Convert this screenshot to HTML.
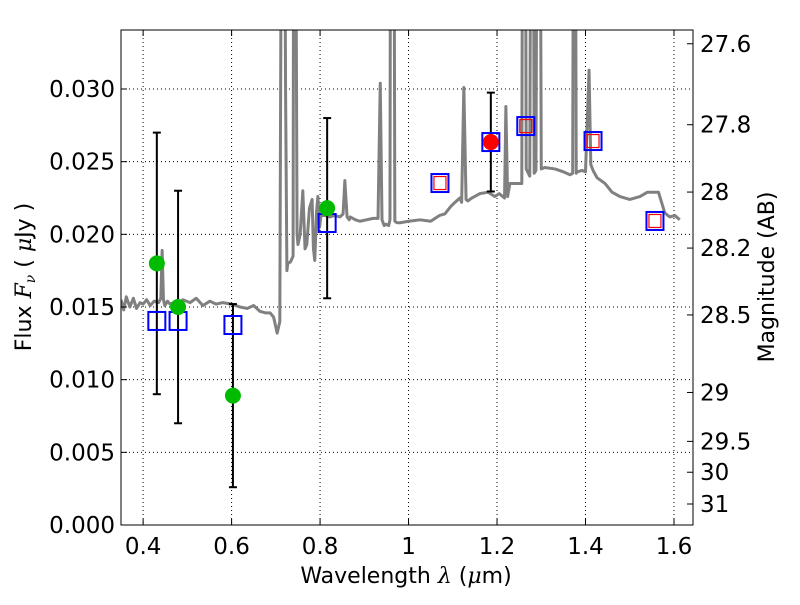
<!DOCTYPE html>
<html><head><meta charset="utf-8"><style>
body{margin:0;background:#fff}
svg text{font-family:"DejaVu Sans","Liberation Sans",sans-serif;fill:#000}
</style></head><body>
<svg id="c" width="800" height="600"></svg>
<script>
const specW=[0.350,0.356,0.362,0.370,0.378,0.385,0.393,0.400,0.408,0.416,0.425,0.435,0.440,0.443,0.446,0.449,0.455,0.461,0.470,0.480,0.490,0.506,0.520,0.535,0.551,0.565,0.580,0.600,0.619,0.635,0.650,0.664,0.676,0.687,0.695,0.703,0.709,0.712,0.714,0.718,0.722,0.725,0.727,0.733,0.739,0.741,0.743,0.748,0.750,0.755,0.761,0.766,0.770,0.776,0.782,0.785,0.788,0.792,0.795,0.799,0.802,0.811,0.822,0.833,0.845,0.852,0.856,0.861,0.866,0.868,0.880,0.890,0.905,0.920,0.931,0.936,0.940,0.945,0.949,0.955,0.958,0.960,0.962,0.966,0.969,0.974,0.981,1.000,1.026,1.050,1.070,1.082,1.095,1.105,1.116,1.120,1.125,1.130,1.134,1.143,1.161,1.180,1.195,1.205,1.213,1.217,1.220,1.224,1.229,1.245,1.256,1.259,1.263,1.266,1.274,1.278,1.281,1.284,1.288,1.292,1.296,1.300,1.308,1.331,1.350,1.365,1.371,1.374,1.376,1.379,1.382,1.392,1.400,1.408,1.412,1.417,1.426,1.444,1.460,1.478,1.500,1.523,1.540,1.552,1.565,1.579,1.586,1.591,1.602,1.613,1.628,1.643];
const specF=[0.0155,0.0148,0.0157,0.0150,0.0156,0.0149,0.0153,0.0152,0.0155,0.0151,0.0154,0.0153,0.0156,0.0189,0.0155,0.0151,0.0154,0.0152,0.0153,0.0152,0.0155,0.0153,0.0156,0.0151,0.0154,0.0152,0.0153,0.0152,0.0150,0.0149,0.0151,0.0147,0.0146,0.0146,0.0143,0.0132,0.0140,0.0400,0.0600,0.0600,0.0300,0.0175,0.0180,0.0181,0.0185,0.0600,0.0600,0.0200,0.0193,0.0200,0.0230,0.0190,0.0193,0.0218,0.0224,0.0190,0.0182,0.0215,0.0226,0.0205,0.0213,0.0213,0.0212,0.0213,0.0212,0.0214,0.0237,0.0212,0.0210,0.0212,0.0210,0.0209,0.0210,0.0211,0.0211,0.0304,0.0210,0.0206,0.0207,0.0206,0.0210,0.0600,0.0600,0.0600,0.0209,0.0208,0.0208,0.0209,0.0210,0.0209,0.0213,0.0214,0.0219,0.0222,0.0225,0.0222,0.0301,0.0224,0.0223,0.0225,0.0228,0.0229,0.0226,0.0228,0.0226,0.0225,0.0288,0.0226,0.0235,0.0235,0.0235,0.0600,0.0600,0.0245,0.0240,0.0600,0.0600,0.0242,0.0244,0.0600,0.0600,0.0245,0.0246,0.0245,0.0243,0.0241,0.0242,0.0600,0.0600,0.0242,0.0243,0.0244,0.0243,0.0313,0.0248,0.0244,0.0239,0.0235,0.0229,0.0226,0.0224,0.0226,0.0229,0.0229,0.0229,0.0215,0.0213,0.0212,0.0213,0.0210];
const ptW=[0.431,0.479,0.603,0.816];
const ptF=[0.0180,0.0150,0.0089,0.0218];
const ptErr=[0.0090,0.0080,0.0063,0.0062];
const redW=[1.186],redF=[0.02635],redErr=[0.0034];
const boxW=[0.431,0.479,0.603,0.816,1.071,1.186,1.265,1.417,1.557];
const boxF=[0.01404,0.01404,0.01376,0.02078,0.02353,0.02635,0.02745,0.02642,0.02092];
const rboxW=[1.071,1.265,1.417,1.557];
const rboxF=[0.02353,0.02745,0.02642,0.02092];
const xTicks=[0.4,0.6,0.8,1.0,1.2,1.4,1.6];
const xLabels=["0.4","0.6","0.8","1","1.2","1.4","1.6"];
const yTicks=[0,0.005,0.010,0.015,0.020,0.025,0.030];
const yLabels=["0.000","0.005","0.010","0.015","0.020","0.025","0.030"];
const magTicks=[27.6,27.8,28,28.2,28.5,29,29.5,30,31];
const magLabels=["27.6","27.8","28","28.2","28.5","29","29.5","30","31"];

const L=121,R=693,T=30,B=525,X0=0.35,X1=1.643,Y0=0,Y1=0.03406;
const sx=w=>L+(w-X0)/(X1-X0)*(R-L);
const sy=f=>B-(f-Y0)/(Y1-Y0)*(B-T);
const NS="http://www.w3.org/2000/svg";
const svg=document.getElementById('c');
function mk(tag,at,parent){const e=document.createElementNS(NS,tag);for(const k in at)e.setAttribute(k,at[k]);(parent||svg).appendChild(e);return e;}
const defs=mk('defs',{});const cp=mk('clipPath',{id:'clip'},defs);mk('rect',{x:L,y:T,width:R-L,height:B-T},cp);
const plot=mk('g',{'clip-path':'url(#clip)'});


xTicks.forEach((t,i)=>{const g=mk('line',{x1:sx(t),x2:sx(t),y1:T,y2:B,stroke:'#000','stroke-width':1,'stroke-dasharray':'1,3'},plot);

});
yTicks.forEach(t=>{const g=mk('line',{x1:L,x2:R,y1:sy(t),y2:sy(t),stroke:'#000','stroke-width':1,'stroke-dasharray':'1,3'},plot);

});
const sp=mk('polyline',{points:specW.map((w,i)=>sx(w)+','+sy(specF[i])).join(' '),fill:'none',stroke:'#808080','stroke-width':3,'stroke-linejoin':'round'},plot);


function ebar(w,f,e,name){const x=sx(w),y1=sy(f+e),y2=sy(f-e);
const g=mk('g',{},plot);


mk('line',{x1:x,x2:x,y1:y1,y2:y2,stroke:'#000','stroke-width':2},g);
mk('line',{x1:x-4,x2:x+4,y1:y1,y2:y1,stroke:'#000','stroke-width':2},g);
mk('line',{x1:x-4,x2:x+4,y1:y2,y2:y2,stroke:'#000','stroke-width':2},g);}
ptW.forEach((w,i)=>ebar(w,ptF[i],ptErr[i],'error-bar'));
redW.forEach((w,i)=>ebar(w,redF[i],redErr[i],'error-bar-red'));
boxW.forEach((w,i)=>{const r=mk('rect',{x:sx(w)-8.5,y:sy(boxF[i])-9,width:17,height:18,fill:'none',stroke:'#0000ff','stroke-width':2},plot);

});
rboxW.forEach((w,i)=>{const r=mk('rect',{x:sx(w)-6,y:sy(rboxF[i])-6.5,width:12,height:13,fill:'none',stroke:'#ff0000','stroke-width':1.2},plot);

});
ptW.forEach((w,i)=>{const c=mk('circle',{cx:sx(w),cy:sy(ptF[i]),r:8,fill:'#00bb00'},plot);

});
redW.forEach((w,i)=>{const c=mk('circle',{cx:sx(w),cy:sy(redF[i]),r:8,fill:'#ff0000'},plot);

});
const fr=mk('rect',{x:L,y:T,width:R-L,height:B-T,fill:'none',stroke:'#000','stroke-width':1});


xTicks.forEach((t,i)=>{const x=sx(t);
mk('line',{x1:x,x2:x,y1:B,y2:B-6,stroke:'#000'});mk('line',{x1:x,x2:x,y1:T,y2:T+6,stroke:'#000'});
const tx=mk('text',{x:x,y:B+29,'text-anchor':'middle','font-size':23});tx.textContent=xLabels[i];

});
yTicks.forEach((t,i)=>{const y=sy(t);
mk('line',{x1:L,x2:L+6,y1:y,y2:y,stroke:'#000'});
const tx=mk('text',{x:L-6,y:y+8,'text-anchor':'end','font-size':23});tx.textContent=yLabels[i];

});
magTicks.forEach((m,i)=>{const y=sy(Math.pow(10,(23.9-m)/2.5));
mk('line',{x1:R,x2:R-6,y1:y,y2:y,stroke:'#000'});
const tx=mk('text',{x:R+7,y:y+8,'font-size':23});tx.textContent=magLabels[i];

});
</script>
<svg width="800" height="600" style="position:absolute;left:0;top:0;pointer-events:none">
<text x="406" y="583" text-anchor="middle" font-size="22">Wavelength  <tspan font-style="italic" font-family="DejaVu Serif,serif">λ</tspan> (<tspan font-style="italic" font-family="DejaVu Serif,serif">μ</tspan>m)</text>
<text transform="translate(31,277) rotate(-90)" text-anchor="middle" font-size="22">Flux  <tspan font-style="italic" font-family="DejaVu Serif,serif">F</tspan><tspan font-style="italic" font-size="14" dy="4" font-family="DejaVu Serif,serif">ν</tspan><tspan dy="-4">  (  <tspan font-style="italic" font-family="DejaVu Serif,serif">μ</tspan>Jy )</tspan></text>
<text transform="translate(774,277) rotate(-90)" text-anchor="middle" font-size="22">Magnitude (AB)</text>
</svg>
</body></html>
